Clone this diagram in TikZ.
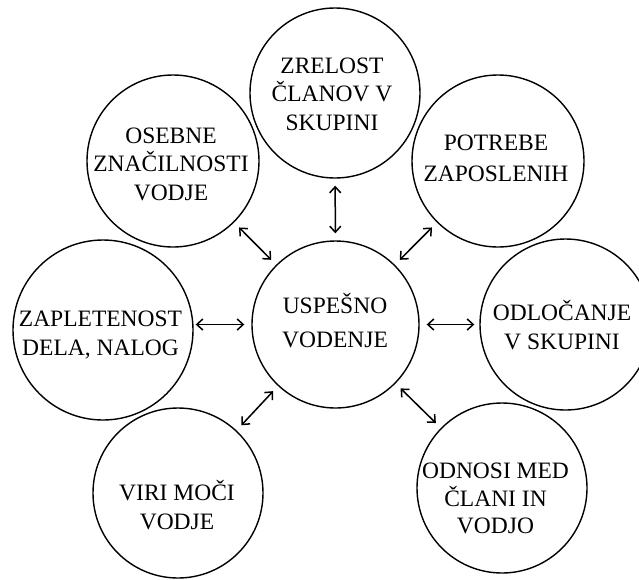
\documentclass[tikz,border=0pt]{standalone}
\usepackage{fontspec}
\setmainfont{Liberation Serif}
\usetikzlibrary{arrows.meta}

% stacked, centred lines whose baseline is the first line
\newcommand{\ringlines}[1]{\begin{tabular}[t]{@{}c@{}}#1\end{tabular}}

\begin{document}
\begin{tikzpicture}[x=1pt, y=-1pt,
  ring/.style={circle, draw, line width=1.4pt, inner sep=0pt},
  caption/.style={anchor=base, inner sep=0pt, font=\fontsize{23.5}{#1}\selectfont},
  caption/.default=29,
  biarrow/.style={line width=1.5pt, {Straight Barb[length=6pt,width=11pt]}-{Straight Barb[length=6pt,width=11pt]},
                  shorten <=7pt, shorten >=7pt}]
  \useasboundingbox (0,0) rectangle (639,579);

  % circles
  \node[ring, minimum size=170pt] (zre) at (335,93) {};
  \node[ring, minimum size=172pt] (ose) at (173,161) {};
  \node[ring, minimum size=172pt] (pot) at (498,161) {};
  \node[ring, minimum size=180pt] (zap) at (103,330) {};
  \node[ring, minimum size=167pt] (usp) at (335.5,324.5) {};
  \node[ring, minimum size=171pt] (odl) at (565.5,324.5) {};
  \node[ring, minimum size=170pt] (vir) at (178,493) {};
  \node[ring, minimum size=170pt] (odn) at (502,488) {};

  % texts
  \node[caption=28.5] (zre-t) at (332,73) {\ringlines{ZRELOST\\ČLANOV V\\SKUPINI}};
  \node[caption=28.5] (ose-t) at (171,143) {\ringlines{OSEBNE\\ZNAČILNOSTI\\VODJE}};
  \node[caption=31] (pot-t) at (496,150) {\ringlines{POTREBE\\ZAPOSLENIH}};
  \node[caption=29.5] (zap-t) at (100.5,326) {\ringlines{ZAPLETENOST\\DELA, NALOG}};
  \node[caption=34] (usp-t) at (335,313) {\ringlines{USPEŠNO\\VODENJE}};
  \node[caption=29] (odl-t) at (562,320) {\ringlines{ODLOČANJE\\V SKUPINI}};
  \node[caption=29] (vir-t) at (177,500) {\ringlines{VIRI MOČI\\VODJE}};
  \node[caption=27.5] (odn-t) at (495.5,478) {\ringlines{ODNOSI MED\\ČLANI IN\\VODJO}};

  % connectors
  \draw[biarrow] (zre) -- (usp);
  \draw[biarrow] (ose) -- (usp);
  \draw[biarrow] (pot) -- (usp);
  \draw[biarrow, shorten <=2pt] (usp.west -| zap.east) -- (usp.west);
  \draw[biarrow, shorten >=5pt] (usp.east) -- (usp.east -| odl.west);
  \draw[biarrow] (usp) -- (vir);
  \draw[biarrow] (usp) -- (odn);
\end{tikzpicture}
\end{document}
